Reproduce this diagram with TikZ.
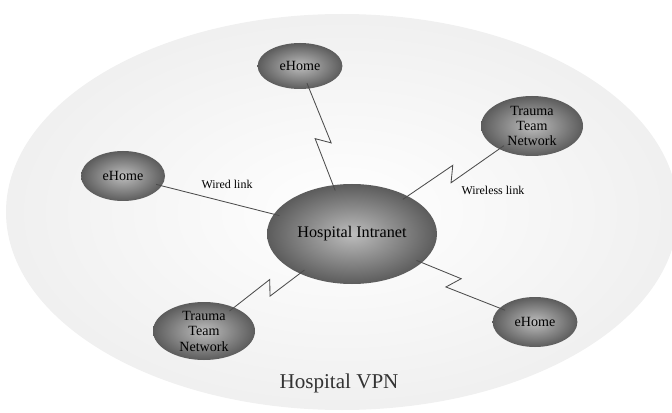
\documentclass[tikz,border=0pt]{standalone}
\usepackage{fontspec}
\setmainfont{Liberation Serif}
\usepackage{tikz}
\usetikzlibrary{shapes.geometric, calc, positioning}

\begin{document}
\begin{tikzpicture}[
    site/.style={ellipse, inner sep=0pt, shading=radial, inner color=black!26, outer color=black!64, align=center, font=\fontsize{10}{11}\selectfont},
    link/.style={draw=black!70, line width=0.6pt, shorten <=-1.5mm, shorten >=-1.5mm},
    zig/.style={to path={-- ($(\tikztostart)!0.58!(\tikztotarget)!5pt!90:(\tikztotarget)$) -- ($(\tikztostart)!0.53!(\tikztotarget)!5pt!-90:(\tikztotarget)$) -- (\tikztotarget)}},
    tag/.style={font=\fontsize{8.5}{10}\selectfont}
]
    \useasboundingbox (0,0) rectangle (16.8,10.3);

    % VPN area
    \node[ellipse, minimum width=16.8cm, minimum height=9.9cm, shading=radial, inner color=white, outer color=black!6] (vpn) at (8.55,5.0) {};
    \node[font=\fontsize{15}{17}\selectfont, text=black!80] (vpnname) at (8.475,0.72) {Hospital VPN};

    % Hub
    \node[site, minimum width=4.25cm, minimum height=2.5cm, font=\fontsize{11.5}{13}\selectfont] (hub) at (8.8,4.45) {Hospital Intranet};

    % Sites
    \node[site, minimum width=2.12cm, minimum height=1.15cm] (homeN) at (7.5,8.65) {eHome};
    \node[site, minimum width=2.1cm, minimum height=1.25cm] (homeW) at (3.075,5.9) {eHome};
    \node[site, minimum width=2.55cm, minimum height=1.5cm] (teamE) at (13.3,7.15) {Trauma\\Team\\Network};
    \node[site, minimum width=2.55cm, minimum height=1.45cm] (teamSW) at (5.1,2.025) {Trauma\\Team\\Network};
    \node[site, minimum width=2.12cm, minimum height=1.25cm] (homeSE) at (13.375,2.25) {eHome};

    % Links
    \draw[link] (hub) -- (homeW);
    \draw[link] (hub) to[zig] (homeN);
    \draw[link] (hub) to[zig] (teamE);
    \draw[link] (hub) to[zig] (teamSW);
    \draw[link] (hub) to[zig] (homeSE);

    % Labels
    \node[tag] (wired) at (5.675,5.7) {Wired link};
    \node[tag] (wireless) at (12.325,5.55) {Wireless link};
\end{tikzpicture}
\end{document}
